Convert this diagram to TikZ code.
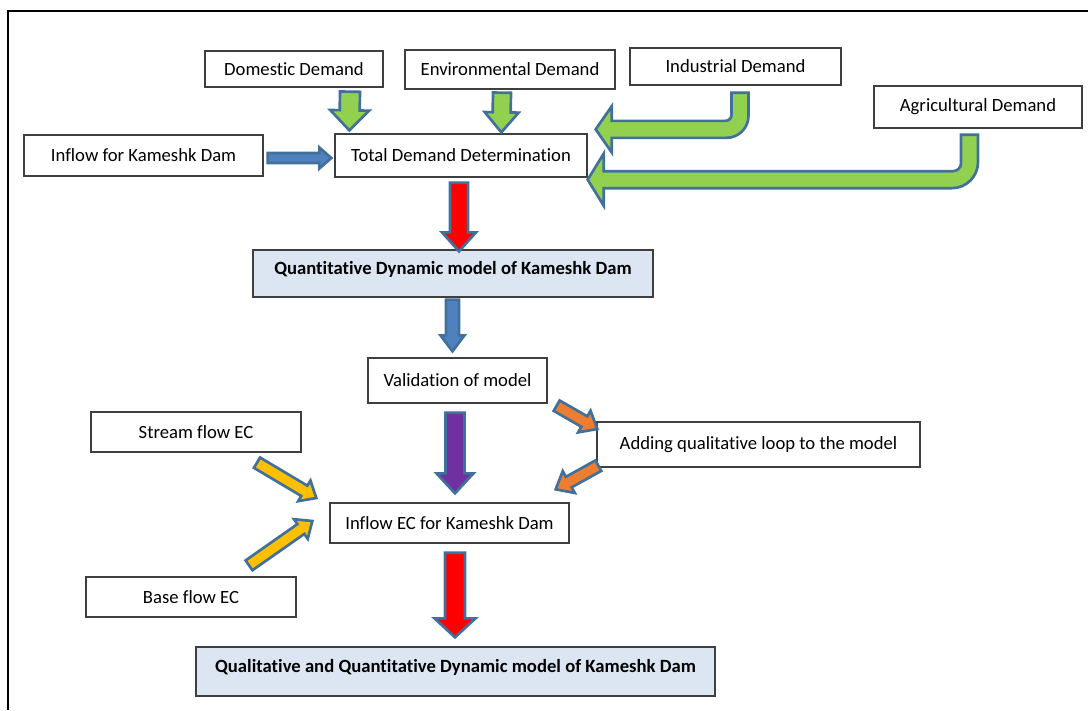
\documentclass[tikz,border=0pt]{standalone}
\usepackage{fontspec}
\setmainfont{Carlito}[Ligatures=CommonOff]
\usetikzlibrary{calc}

\definecolor{arrowedge}{HTML}{41709C}
\definecolor{boxedge}{HTML}{3F3F3F}
\definecolor{modelfill}{HTML}{DCE6F2}
\definecolor{demandgreen}{HTML}{92D050}
\definecolor{flowblue}{HTML}{4F81BD}
\definecolor{stepred}{HTML}{FF0000}
\definecolor{checkpurple}{HTML}{7030A0}
\definecolor{loopange}{HTML}{ED7D31}
\definecolor{ecyellow}{HTML}{FFC000}

\tikzset{
  box/.style={draw=boxedge, line width=1pt, fill=white, inner sep=0pt,
    align=center, font=\fontsize{14}{17}\selectfont},
  modelbox/.style={box, fill=modelfill, font=\fontsize{14}{17}\selectfont\bfseries,
    text height=10pt, text depth=8pt},
  arrowline/.style={draw=arrowedge, line width=2pt, line join=miter, miter limit=10},
}

% box from its corners in pixel units: style, name, x1, y1, x2, y2, text
\newcommand\pxbox[7]{%
  \node[#1, minimum width={(#5-#3)*0.75pt}, minimum height={(#6-#4)*0.75pt}]
    (#2) at ({(#3+#5)/2},{(#4+#6)/2}) {#7};}

% straight block arrow: fill, from, to, half shaft, half head, head length
\newcommand\blockarrow[6]{%
  \path (#2) coordinate (ba-s) (#3) coordinate (ba-e);
  \pgfmathsetlengthmacro\bashaft{#4*0.75pt}%
  \pgfmathsetlengthmacro\bahead{#5*0.75pt}%
  \pgfmathsetlengthmacro\balen{#6*0.75pt}%
  \path ($(ba-e)!\balen!(ba-s)$) coordinate (ba-h);
  \draw[arrowline, fill=#1]
    ($(ba-s)!\bashaft!90:(ba-e)$) -- ($(ba-h)!\bashaft!90:(ba-e)$)
    -- ($(ba-h)!\bahead!90:(ba-e)$) -- (ba-e)
    -- ($(ba-h)!\bahead!-90:(ba-e)$) -- ($(ba-h)!\bashaft!-90:(ba-e)$)
    -- ($(ba-s)!\bashaft!-90:(ba-e)$) -- cycle;}

% bent block arrow, down then left: fill, start, tip, half shaft,
% outer radius, inner radius, half head, head length
\newcommand\uturnarrow[8]{%
  \path (#2) coordinate (ut-s) (#3) coordinate (ut-t);
  \path let \p1=(ut-s), \p2=(ut-t) in (\x1,\y2) coordinate (ut-c);
  \draw[arrowline, fill=#1]
    ($(ut-s)+(-#4,0)$) -- ($(ut-s)+(#4,0)$)
    -- ($(ut-c)+(#4,{#4-#5})$)
    .. controls ($(ut-c)+(#4,{#4-0.448*#5})$) and ($(ut-c)+({#4-0.448*#5},#4)$)
    .. ($(ut-c)+({#4-#5},#4)$)
    -- ($(ut-t)+(#8,#4)$) -- ($(ut-t)+(#8,#7)$) -- (ut-t)
    -- ($(ut-t)+(#8,-#7)$) -- ($(ut-t)+(#8,-#4)$)
    -- ($(ut-c)+({-#4-#6},-#4)$)
    .. controls ($(ut-c)+({-#4-0.448*#6},-#4)$) and ($(ut-c)+(-#4,{-#4-0.448*#6})$)
    .. ($(ut-c)+(-#4,{-#4-#6})$)
    -- cycle;}

\begin{document}
\begin{tikzpicture}[x=0.75pt, y=-0.75pt]
\useasboundingbox (0,0) rectangle (1088,710);

% frame
\draw[line width=1.5pt] (8,710) -- (8,11) -- (1088,11);

% demand inputs
\pxbox{box}{dom}{205}{51}{383}{87}{Domestic Demand}
\pxbox{box}{env}{405}{50}{615}{89}{Environmental Demand}
\pxbox{box}{ind}{630}{48}{841}{85}{Industrial Demand}
\pxbox{box}{agr}{874}{86}{1082}{128}{Agricultural Demand}
\pxbox{box}{inflow}{24}{135}{263}{176}{Inflow for Kameshk Dam}
\pxbox{box}{total}{335}{134}{587}{177}{Total Demand Determination}

% models and steps
\pxbox{modelbox}{quant}{253}{250}{653}{297}{Quantitative Dynamic model of Kameshk Dam}
\pxbox{box}{valid}{368}{358}{547}{403}{Validation of model}
\pxbox{box}{adding}{597}{422}{920}{467}{Adding qualitative loop to the model}
\pxbox{box}{stream}{91}{412}{301}{452}{Stream flow EC}
\pxbox{box}{inec}{330}{503}{569}{543}{Inflow EC for Kameshk Dam}
\pxbox{box}{base}{86}{577}{296}{617}{Base flow EC}
\pxbox{modelbox}{qual}{196}{647}{715}{696}{Qualitative and Quantitative Dynamic model of Kameshk Dam}

% demand arrows
\blockarrow{demandgreen}{$(dom.south)+(56,4)$}{$(total.north west)+(15,-3)$}{10}{19.5}{20}
\blockarrow{demandgreen}{$(env.south)+(-8,3)$}{$(total.north west)+(167,-1)$}{9}{17}{20}
\uturnarrow{demandgreen}{$(ind.south)+(4.5,7)$}{$(total.north east)+(8,-4)$}{8.5}{22}{6}{23}{16}
\uturnarrow{demandgreen}{$(agr.south)+(-8.5,6)$}{$(total.south east)+(0,2)$}{8.5}{26}{8}{26}{16}
\blockarrow{flowblue}{$(inflow.east)+(4,2.5)$}{$(total.west)+(-3,2.5)$}{5}{10.5}{12}

% main chain
\blockarrow{stepred}{$(total.south)+(-2,5)$}{$(quant.north)+(6,2)$}{9}{17}{19}
\blockarrow{flowblue}{$(quant.south)+(-0.5,2)$}{$(valid.north)+(-5,-6)$}{6.5}{12}{16}
\blockarrow{checkpurple}{$(valid.south)+(-2.5,9)$}{$(inec.north)+(5.5,-9)$}{9.5}{18.5}{20}
\blockarrow{loopange}{$(valid.south east)+(9,2)$}{$(adding.west)+(1,-15.5)$}{6}{12.5}{15}
\blockarrow{loopange}{$(adding.south west)+(2,-2)$}{$(inec.north east)+(-14,-13)$}{6}{12.5}{15}
\blockarrow{ecyellow}{$(stream.south)+(61,10)$}{$(inec.west)+(-13,-25)$}{6}{12}{14}
\blockarrow{ecyellow}{$(base.north)+(58,-11)$}{$(inec.west)+(-17,-2)$}{6}{12}{14}
\blockarrow{stepred}{$(inec.south)+(5.5,9)$}{$(qual.north)+(-0.5,-9)$}{10}{20.5}{19}

\end{tikzpicture}
\end{document}
